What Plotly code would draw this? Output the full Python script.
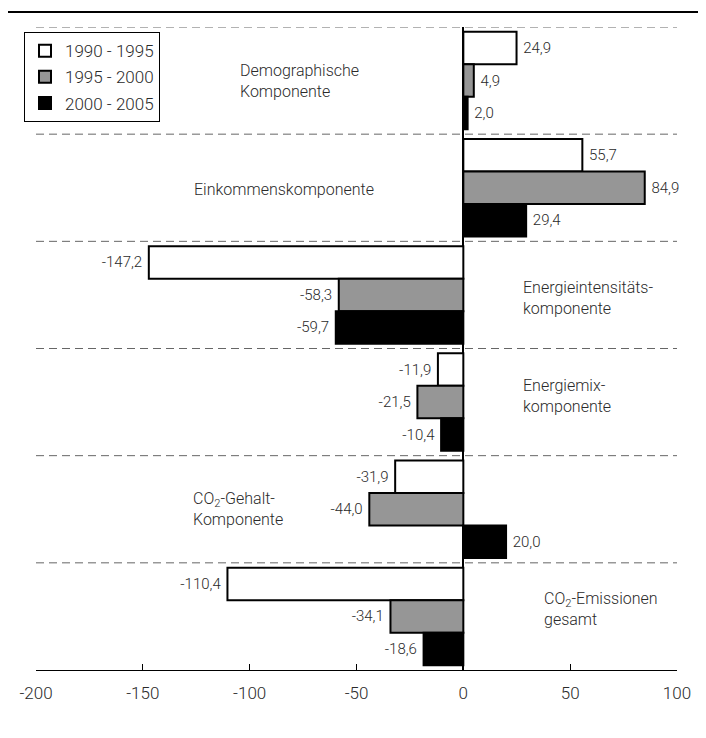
import plotly.graph_objects as go

categories = ["Demographische Komponente", "Einkommenskomponente", "Energieintensitätskomponente",
              "Energiemixkomponente", "CO2-Gehalt-Komponente", "CO2-Emissionen gesamt"]
series_names = ["1990 - 1995", "1995 - 2000", "2000 - 2005"]
v1990_1995 = [24.9, 55.7, -147.2, -11.9, -31.9, -110.4]
v1995_2000 = [4.9, 84.9, -58.3, -21.5, -44.0, -34.1]
v2000_2005 = [2.0, 29.4, -59.7, -10.4, 20.0, -18.6]
tick_vals = [-200, -150, -100, -50, 0, 50, 100]

cat_labels = ["Demographische<br>Komponente", "Einkommenskomponente",
              "Energieintensitäts-<br>komponente", "Energiemix-<br>komponente",
              "CO<sub>2</sub>-Gehalt-<br>Komponente", "CO<sub>2</sub>-Emissionen<br>gesamt"]
cat_label_x = [-105.3, -126.8, 27.1, 27.1, -127.3, 37.0]
cat_label_dy = [0.0, 0.02, 0.03, -0.06, 0.0, -0.07]

FONT = "Roboto, Liberation Sans, sans-serif"
TXT = "#2a2a2a"
W = 300
colors = ["#ffffff", "#969696", "#000000"]
series = [v1990_1995, v1995_2000, v2000_2005]

fig = go.Figure()
for i, (name, vals) in enumerate(zip(series_names, series)):
    fig.add_trace(go.Bar(
        y=categories, x=vals, name=name, orientation="h",
        marker=dict(color=colors[i], line=dict(color="#000000", width=2)),
        text=[(" " + f"{v:.1f}".replace(".", ",")) if v >= 0 else (f"{v:.1f}".replace(".", ",") + " ")
              for v in vals],
        textposition="outside", cliponaxis=False,
        textfont=dict(size=15, color=TXT, family=FONT, weight=W),
        legendgroup=f"g{i}",
    ))

shapes = []
for k in range(len(categories)):
    shapes.append(dict(type="line", xref="paper", yref="y", x0=0, x1=1,
                       y0=k - 0.5, y1=k - 0.5,
                       line=dict(color="#666666", width=1, dash="8px,5px"), layer="below"))
shapes.append(dict(type="line", xref="paper", yref="paper", x0=-0.05, x1=1.06,
                   y0=1.0233, y1=1.0233, line=dict(color="#000000", width=2)))

annotations = []
for idx, (lab, ax, dy) in enumerate(zip(cat_labels, cat_label_x, cat_label_dy)):
    annotations.append(dict(x=ax, y=idx + dy, xref="x", yref="y", text=lab,
                            showarrow=False, xanchor="left", yanchor="middle", align="left",
                            font=dict(size=16, color=TXT, family=FONT, weight=W)))

fig.update_layout(
    width=698, height=730,
    margin=dict(l=28, r=29, t=19, b=68),
    paper_bgcolor="white", plot_bgcolor="white",
    barmode="group", bargap=0.09, bargroupgap=0,
    font=dict(family=FONT, size=15, color=TXT, weight=W),
    showlegend=True,
    legend=dict(x=-0.0187, y=0.992, xanchor="left", yanchor="top",
                bordercolor="#000000", borderwidth=1, bgcolor="white",
                font=dict(size=17, family=FONT, color=TXT, weight=W),
                traceorder="grouped", tracegroupgap=1, itemwidth=30),
    shapes=shapes, annotations=annotations,
    xaxis=dict(range=[-200, 100], tickvals=tick_vals, ticktext=[str(t) for t in tick_vals],
               showgrid=False, zeroline=True, zerolinecolor="#000000", zerolinewidth=2,
               showline=True, linecolor="#000000", linewidth=1,
               ticks="inside", ticklen=6, tickcolor="#000000", ticklabelstandoff=8,
               tickfont=dict(size=17, family=FONT, color=TXT, weight=W), fixedrange=True),
    yaxis=dict(range=[len(categories) - 0.5, -0.5], showticklabels=False, showgrid=False,
               zeroline=False, showline=False, ticks=""),
)

fig.write_html("out.html")
